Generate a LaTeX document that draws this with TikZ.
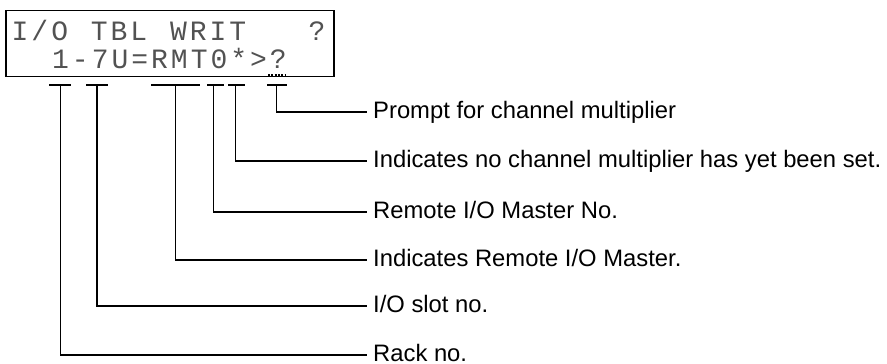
\documentclass[tikz,border=0pt]{standalone}
\usepackage{fontspec}
\setmainfont{Liberation Sans}
\newfontfamily\lcdfont{Liberation Mono}
\newcommand\lc[1]{\makebox[19.8pt][c]{#1}}
\tikzset{
  wire/.style={line width=1.8pt, line cap=rect},
  lbl/.style={anchor=west, inner xsep=7pt, inner ysep=0pt, text height=13pt, text depth=0pt, font=\fontsize{23.8}{26}\selectfont},
  lcd/.style={anchor=base west, inner sep=0pt, text=black!68, font=\lcdfont\fontsize{28}{30}\selectfont}
}
\begin{document}
\begin{tikzpicture}[x=1pt,y=-1pt]
\useasboundingbox (0,0) rectangle (887,364);
% display box
\draw[line width=1.8pt] (6,10.5) rectangle (334,76.5);
\node[lcd] (l1) at (10,40) {\lc{I}\lc{/}\lc{O}\lc{ }\lc{T}\lc{B}\lc{L}\lc{ }\lc{W}\lc{R}\lc{I}\lc{T}\lc{ }\lc{ }\lc{ }\lc{?}};
\node[lcd] (l2) at (50.5,68) {\lc{1}\lc{-}\lc{7}\lc{U}\lc{=}\lc{R}\lc{M}\lc{T}\lc{0}\lc{*}\lc{>}\lc{?}};
\draw[line width=1.6pt, dash pattern=on 2pt off 1.3pt] (268,75) -- (286,75);
% labels
\node[lbl] (p1) at (366,112) {Prompt for channel multiplier};
\node[lbl] (p2) at (366,161) {Indicates no channel multiplier has yet been set.};
\node[lbl] (p3) at (366,212) {Remote I/O Master No.};
\node[lbl] (p4) at (366,260) {Indicates Remote I/O Master.};
\node[lbl] (p5) at (366,306) {I/O slot no.};
\node[lbl] (p6) at (366,355) {Rack no.};
% T bars
\coordinate (t1) at (276.5,85); \draw[wire] (268,85) -- (286,85);
\coordinate (t2) at (235.5,85); \draw[wire] (229,85) -- (244,85);
\coordinate (t3) at (213.5,85); \draw[wire] (208,85) -- (223,85);
\coordinate (t4) at (175.5,85); \draw[wire] (152,85) -- (199,85);
\coordinate (t5) at (97,85);   \draw[wire] (87,85) -- (107,85);
\coordinate (t6) at (60.5,85); \draw[wire] (50,85) -- (70,85);
\draw[wire] (t1) |- (p1.west);
\draw[wire] (t2) |- (p2.west);
\draw[wire] (t3) |- (p3.west);
\draw[wire] (t4) |- (p4.west);
\draw[wire] (t5) |- (p5.west);
\draw[wire] (t6) |- (p6.west);
\end{tikzpicture}
\end{document}
